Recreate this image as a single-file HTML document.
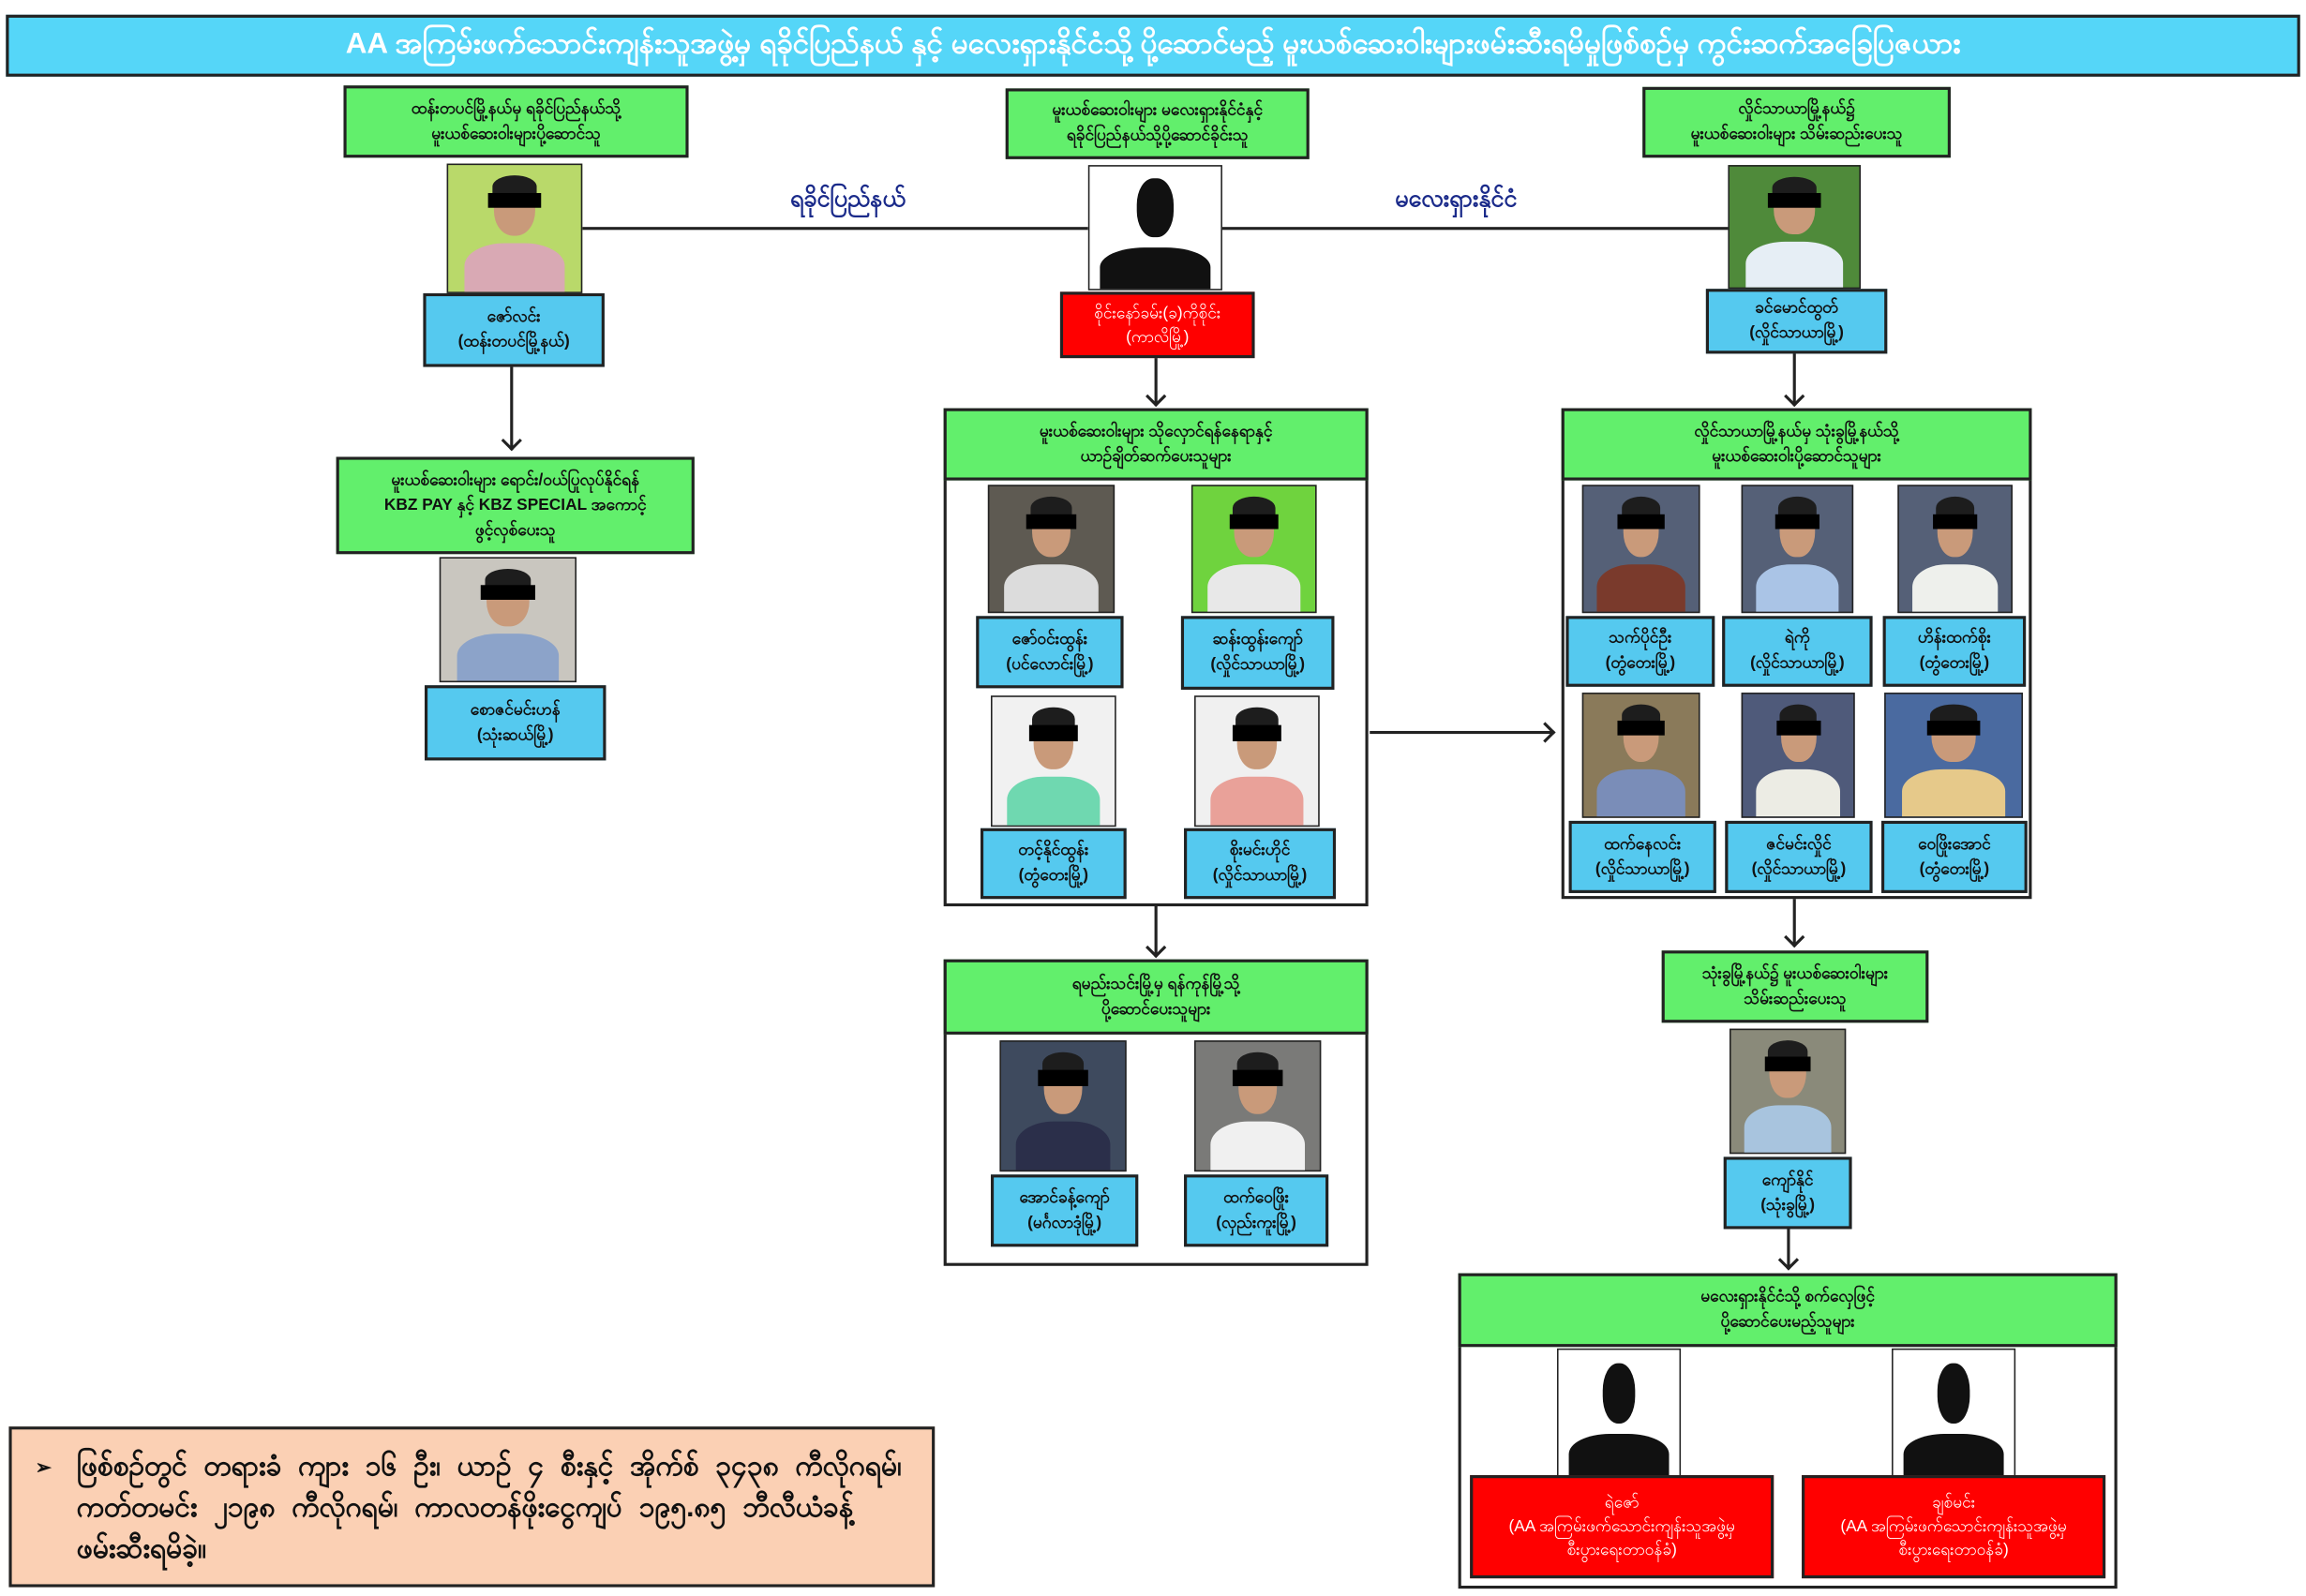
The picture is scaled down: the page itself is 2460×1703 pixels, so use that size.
<!DOCTYPE html>
<html><head><meta charset="utf-8">
<style>
html,body{margin:0;padding:0;background:#fff;width:2460px;height:1703px;overflow:hidden}
#w{position:absolute;left:0;top:0;width:1564px;height:1083px;transform:scale(1.5729,1.5725);transform-origin:0 0;font-family:"Liberation Sans","Noto Sans CJK SC",sans-serif}
div{box-sizing:border-box}
.a{position:absolute}
.g{position:absolute;background:#62ef6c;border:2px solid #222;display:flex;align-items:center;justify-content:center;text-align:center;font-size:11px;font-weight:bold;line-height:17px;color:#111}
.b{position:absolute;background:#55c9ef;border:2px solid #222;display:flex;align-items:center;justify-content:center;text-align:center;font-size:11px;font-weight:bold;line-height:17px;color:#111}
.r{position:absolute;background:#f00;border:2px solid #222;display:flex;align-items:center;justify-content:center;text-align:center;font-size:11px;line-height:16px;color:#fff}
.box{position:absolute;border:2px solid #222;background:#fff}
.ph{position:absolute;border:1px solid #222;overflow:hidden;background:#8a93a6}
.ph .hd{position:absolute;left:34%;top:12%;width:32%;height:44%;border-radius:45%;background:#c99a7a}
.ph .hr{position:absolute;left:33%;top:8%;width:34%;height:18%;border-radius:50% 50% 20% 20%;background:#1d1d1d}
.ph .sh{position:absolute;left:12%;top:62%;width:76%;height:45%;border-radius:40% 40% 0 0;background:#d8dde6}
.ph .bar{position:absolute;left:30%;top:22%;width:40%;height:12%;background:#000}
.sil{position:absolute;border:1px solid #222;background:#fff;overflow:hidden}
.sil .hd{position:absolute;left:36%;top:10%;width:28%;height:48%;border-radius:45%;background:#111}
.sil .sh{position:absolute;left:8%;top:66%;width:84%;height:40%;border-radius:40% 40% 0 0;background:#111}
.vl{position:absolute;width:2px;background:#222}
.hl{position:absolute;height:2px;background:#222}
.ad{position:absolute;width:10px;height:10px;border-right:2px solid #222;border-bottom:2px solid #222;transform:rotate(45deg)}
.ar{position:absolute;width:10px;height:10px;border-right:2px solid #222;border-top:2px solid #222;transform:rotate(45deg)}
</style></head><body><div id="w">

<div class="a" style="left:4px;top:10px;width:1556px;height:42px;background:#55d6f8;border:2px solid #222;color:#fff;font-size:20px;font-weight:bold;display:flex;align-items:center;justify-content:center">AA အကြမ်းဖက်သောင်းကျန်းသူအဖွဲ့မှ  ရခိုင်ပြည်နယ် နှင့် မလေးရှားနိုင်ငံသို့ ပို့ဆောင်မည့် မူးယစ်ဆေးဝါးများဖမ်းဆီးရမိမှုဖြစ်စဉ်မှ  ကွင်းဆက်အခြေပြဇယား</div>

<div class="hl" style="left:395px;top:154px;width:343px"></div>
<div class="hl" style="left:829px;top:154px;width:343px"></div>
<div class="a" style="left:515px;top:124px;width:120px;text-align:center;color:#1a2a8a;font-size:16px;font-weight:bold">ရခိုင်ပြည်နယ်</div>
<div class="a" style="left:925px;top:124px;width:125px;text-align:center;color:#1a2a8a;font-size:16px;font-weight:bold">မလေးရှားနိုင်ငံ</div>

<div class="g" style="left:233px;top:58px;width:234px;height:49px">ထန်းတပင်မြို့နယ်မှ ရခိုင်ပြည်နယ်သို့<br>မူးယစ်ဆေးဝါးများပို့ဆောင်သူ</div>
<div class="ph" style="left:303px;top:111px;width:92px;height:88px;background:#b9d96a"><div class="sh" style="background:#d9a9b4"></div><div class="hd"></div><div class="hr"></div><div class="bar"></div></div>
<div class="b" style="left:287px;top:199px;width:123px;height:50px">ဇော်လင်း<br>(ထန်းတပင်မြို့နယ်)</div>
<div class="vl" style="left:346px;top:249px;height:56px"></div><div class="ad" style="left:342px;top:294px"></div>
<div class="g" style="left:228px;top:310px;width:243px;height:66px">မူးယစ်ဆေးဝါးများ ရောင်း/ဝယ်ပြုလုပ်နိုင်ရန်<br>KBZ PAY နှင့် KBZ SPECIAL အကောင့်<br>ဖွင့်လှစ်ပေးသူ</div>
<div class="ph" style="left:298px;top:378px;width:93px;height:85px;background:#c9c6bf"><div class="sh" style="background:#8ca3c9"></div><div class="hd"></div><div class="hr"></div><div class="bar"></div></div>
<div class="b" style="left:288px;top:465px;width:123px;height:51px">စောဇင်မင်းဟန်<br>(သုံးဆယ်မြို့)</div>

<div class="g" style="left:682px;top:60px;width:206px;height:48px">မူးယစ်ဆေးဝါးများ မလေးရှားနိုင်ငံနှင့်<br>ရခိုင်ပြည်နယ်သို့ပို့ဆောင်ခိုင်းသူ</div>
<div class="sil" style="left:738px;top:112px;width:91px;height:85px"><div class="sh"></div><div class="hd"></div></div>
<div class="r" style="left:719px;top:198px;width:132px;height:45px">စိုင်းနော်ခမ်း(ခ)ကိုစိုင်း<br>(ကာလိမြို့)</div>
<div class="vl" style="left:783px;top:243px;height:31px"></div><div class="ad" style="left:779px;top:264px"></div>

<div class="box" style="left:640px;top:277px;width:288px;height:338px"></div>
<div class="g" style="left:640px;top:277px;width:288px;height:49px">မူးယစ်ဆေးဝါးများ သိုလှောင်ရန်နေရာနှင့်<br>ယာဉ်ချိတ်ဆက်ပေးသူများ</div>
<div class="ph" style="left:670px;top:329px;width:86px;height:87px;background:#5e5a52"><div class="sh" style="background:#dcdcdc"></div><div class="hd"></div><div class="hr"></div><div class="bar"></div></div>
<div class="b" style="left:662px;top:418px;width:100px;height:49px">ဇော်ဝင်းထွန်း<br>(ပင်လောင်းမြို့)</div>
<div class="ph" style="left:808px;top:329px;width:85px;height:87px;background:#6fd33e"><div class="sh" style="background:#e8e8e8"></div><div class="hd"></div><div class="hr"></div><div class="bar"></div></div>
<div class="b" style="left:801px;top:418px;width:104px;height:50px">ဆန်းထွန်းကျော်<br>(လှိုင်သာယာမြို့)</div>
<div class="ph" style="left:672px;top:472px;width:85px;height:89px;background:#f1f1f1"><div class="sh" style="background:#6fd8b0"></div><div class="hd"></div><div class="hr"></div><div class="bar"></div></div>
<div class="b" style="left:665px;top:562px;width:99px;height:48px">တင့်နိုင်ထွန်း<br>(တွံတေးမြို့)</div>
<div class="ph" style="left:810px;top:472px;width:85px;height:89px;background:#f0f0f0"><div class="sh" style="background:#e9a199"></div><div class="hd"></div><div class="hr"></div><div class="bar"></div></div>
<div class="b" style="left:803px;top:562px;width:103px;height:48px">စိုးမင်းဟိုင်<br>(လှိုင်သာယာမြို့)</div>

<div class="vl" style="left:783px;top:614px;height:34px"></div><div class="ad" style="left:779px;top:638px"></div>
<div class="box" style="left:640px;top:651px;width:288px;height:208px"></div>
<div class="g" style="left:640px;top:651px;width:288px;height:51px">ရမည်းသင်းမြို့မှ ရန်ကုန်မြို့သို့<br>ပို့ဆောင်ပေးသူများ</div>
<div class="ph" style="left:678px;top:706px;width:86px;height:89px;background:#3e4a5e"><div class="sh" style="background:#2b2f4a"></div><div class="hd"></div><div class="hr"></div><div class="bar"></div></div>
<div class="b" style="left:672px;top:797px;width:100px;height:49px">အောင်ခန့်ကျော်<br>(မင်္ဂလာဒုံမြို့)</div>
<div class="ph" style="left:810px;top:706px;width:86px;height:89px;background:#7a7a78"><div class="sh" style="background:#f0f0f0"></div><div class="hd"></div><div class="hr"></div><div class="bar"></div></div>
<div class="b" style="left:803px;top:797px;width:98px;height:49px">ထက်ဝေဖြိုး<br>(လှည်းကူးမြို့)</div>

<div class="hl" style="left:929px;top:496px;width:124px"></div><div class="ar" style="left:1043px;top:492px"></div>

<div class="g" style="left:1114px;top:59px;width:209px;height:48px">လှိုင်သာယာမြို့နယ်၌<br>မူးယစ်ဆေးဝါးများ သိမ်းဆည်းပေးသူ</div>
<div class="ph" style="left:1172px;top:112px;width:90px;height:84px;background:#4f8a3a"><div class="sh" style="background:#e6eef5"></div><div class="hd"></div><div class="hr"></div><div class="bar"></div></div>
<div class="b" style="left:1157px;top:196px;width:123px;height:44px">ခင်မောင်ထွတ်<br>(လှိုင်သာယာမြို့)</div>
<div class="vl" style="left:1216px;top:240px;height:34px"></div><div class="ad" style="left:1212px;top:264px"></div>

<div class="box" style="left:1059px;top:277px;width:319px;height:333px"></div>
<div class="g" style="left:1059px;top:277px;width:319px;height:49px">လှိုင်သာယာမြို့နယ်မှ သုံးခွမြို့နယ်သို့<br>မူးယစ်ဆေးဝါးပို့ဆောင်သူများ</div>
<div class="ph" style="left:1073px;top:329px;width:80px;height:87px;background:#556077"><div class="sh" style="background:#7a3a2c"></div><div class="hd"></div><div class="hr"></div><div class="bar"></div></div>
<div class="ph" style="left:1181px;top:329px;width:76px;height:87px;background:#556077"><div class="sh" style="background:#aac4e6"></div><div class="hd"></div><div class="hr"></div><div class="bar"></div></div>
<div class="ph" style="left:1287px;top:329px;width:78px;height:87px;background:#556077"><div class="sh" style="background:#eef0ec"></div><div class="hd"></div><div class="hr"></div><div class="bar"></div></div>
<div class="b" style="left:1062px;top:418px;width:101px;height:48px">သက်ပိုင်ဦး<br>(တွံတေးမြို့)</div>
<div class="b" style="left:1168px;top:418px;width:102px;height:48px">ရဲကို<br>(လှိုင်သာယာမြို့)</div>
<div class="b" style="left:1277px;top:418px;width:97px;height:48px">ဟိန်းထက်စိုး<br>(တွံတေးမြို့)</div>
<div class="ph" style="left:1073px;top:470px;width:80px;height:85px;background:#8a7a5a"><div class="sh" style="background:#7a8db8"></div><div class="hd"></div><div class="hr"></div><div class="bar"></div></div>
<div class="ph" style="left:1181px;top:470px;width:77px;height:85px;background:#4f5a7a"><div class="sh" style="background:#ecece4"></div><div class="hd"></div><div class="hr"></div><div class="bar"></div></div>
<div class="ph" style="left:1278px;top:470px;width:94px;height:85px;background:#4a6aa0"><div class="sh" style="background:#e6c98a"></div><div class="hd"></div><div class="hr"></div><div class="bar"></div></div>
<div class="b" style="left:1064px;top:557px;width:100px;height:49px">ထက်နေလင်း<br>(လှိုင်သာယာမြို့)</div>
<div class="b" style="left:1170px;top:557px;width:100px;height:49px">ဇင်မင်းလှိုင်<br>(လှိုင်သာယာမြို့)</div>
<div class="b" style="left:1276px;top:557px;width:99px;height:49px">ဝေဖြိုးအောင်<br>(တွံတေးမြို့)</div>

<div class="vl" style="left:1216px;top:610px;height:31px"></div><div class="ad" style="left:1212px;top:631px"></div>
<div class="g" style="left:1127px;top:645px;width:181px;height:49px">သုံးခွမြို့နယ်၌ မူးယစ်ဆေးဝါးများ<br>သိမ်းဆည်းပေးသူ</div>
<div class="ph" style="left:1173px;top:698px;width:79px;height:85px;background:#8a8a7a"><div class="sh" style="background:#a8c4de"></div><div class="hd"></div><div class="hr"></div><div class="bar"></div></div>
<div class="b" style="left:1169px;top:785px;width:87px;height:49px">ကျော်နိုင်<br>(သုံးခွမြို့)</div>
<div class="vl" style="left:1212px;top:834px;height:26px"></div><div class="ad" style="left:1208px;top:850px"></div>

<div class="box" style="left:989px;top:864px;width:447px;height:214px"></div>
<div class="g" style="left:989px;top:864px;width:447px;height:50px">မလေးရှားနိုင်ငံသို့ စက်လှေဖြင့်<br>ပို့ဆောင်ပေးမည့်သူများ</div>
<div class="sil" style="left:1056px;top:915px;width:84px;height:88px"><div class="sh"></div><div class="hd"></div></div>
<div class="sil" style="left:1283px;top:915px;width:84px;height:88px"><div class="sh"></div><div class="hd"></div></div>
<div class="r" style="left:997px;top:1001px;width:206px;height:70px">ရဲဇော်<br>(AA အကြမ်းဖက်သောင်းကျန်းသူအဖွဲ့မှ<br>စီးပွားရေးတာဝန်ခံ)</div>
<div class="r" style="left:1222px;top:1001px;width:206px;height:70px">ချစ်မင်း<br>(AA အကြမ်းဖက်သောင်းကျန်းသူအဖွဲ့မှ<br>စီးပွားရေးတာဝန်ခံ)</div>

<div class="a" style="left:6px;top:968px;width:628px;height:109px;background:#fbd0b4;border:2px solid #222;padding:12px 14px 0 44px;font-size:19px;font-weight:bold;line-height:28px;color:#111;word-spacing:6px">
<span style="position:absolute;left:16px;top:12px;font-size:13px">&#10146;</span>ဖြစ်စဉ်တွင် တရားခံ ကျား ၁၆ ဦး၊ ယာဉ် ၄ စီးနှင့် အိုက်စ် ၃၄၃၈ ကီလိုဂရမ်၊ ကတ်တမင်း ၂၁၉၈ ကီလိုဂရမ်၊ ကာလတန်ဖိုးငွေကျပ် ၁၉၅.၈၅ ဘီလီယံခန့် ဖမ်းဆီးရမိခဲ့။</div>

</div></body></html>
